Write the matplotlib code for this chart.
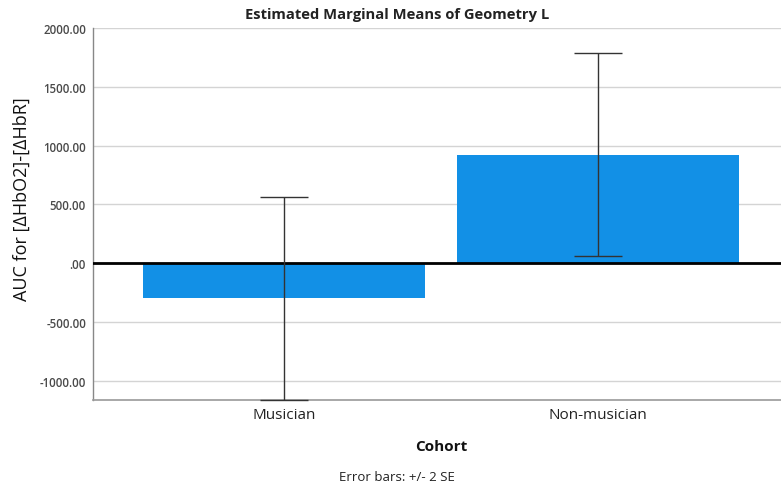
import matplotlib
matplotlib.use("Agg")
import matplotlib.pyplot as plt
import numpy as np

plt.rcParams['font.family'] = ['Open Sans', 'DejaVu Sans']

# Estimated marginal means of AUC by cohort, with +/- 2 SE bounds
cohorts = ["Musician", "Non-musician"]
means = [-300.0, 921.0]
two_se = [862.0, 864.0]

yticks = [-1000, -500, 0, 500, 1000, 1500, 2000]
ytick_labels = ["-1000.00", "-500.00", ".00", "500.00", "1000.00", "1500.00", "2000.00"]

fig = plt.figure(figsize=(7.81, 4.89), dpi=100)
W, H = 781, 489
left, right, top, bottom = 93, 781, 29, 401
ax = fig.add_axes([left / W, 1 - bottom / H, (right - left) / W, (bottom - top) / H])

x = np.arange(len(cohorts))
ax.bar(x, means, width=0.9, color="#1290E6", zorder=2)
ax.errorbar(x, means, yerr=two_se, fmt="none", ecolor="#333333",
            elinewidth=1.0, capsize=17, capthick=1.0, zorder=4, clip_on=False)
ax.axhline(0, color="black", linewidth=2.0, zorder=3)

ax.set_xlim(-0.608, 1.583)
ax.set_ylim(-1165, 2000)
ax.set_yticks(yticks)
ax.set_yticklabels(ytick_labels, fontsize=8.3, color="#4a4a4a", fontweight="semibold")
ax.set_xticks(x)
ax.set_xticklabels(cohorts, fontsize=11, color="#222222")
ax.tick_params(axis="y", length=0, pad=5)
ax.tick_params(axis="x", length=0, pad=5)

ax.yaxis.grid(True, color="#d4d4d4", linewidth=1.0, zorder=0)
ax.set_axisbelow(True)
for side in ["top", "right"]:
    ax.spines[side].set_visible(False)
ax.spines["left"].set_color("#888888")
ax.spines["bottom"].set_color("#999999")
ax.spines["left"].set_linewidth(1.0)
ax.spines["bottom"].set_linewidth(1.2)

fig.text(397 / W, 1 - 15 / H, "Estimated Marginal Means of Geometry L",
         ha="center", va="center", fontsize=10.6, fontweight="bold", color="#222222")
fig.text(22 / W, 1 - 199 / H, "AUC for [ΔHbO2]-[ΔHbR]", rotation=90,
         ha="center", va="center", fontsize=13, color="#111111")
fig.text(441 / W, 1 - 447 / H, "Cohort", ha="center", va="center",
         fontsize=11, fontweight="bold", color="#111111")
fig.text(397 / W, 1 - 478 / H, "Error bars: +/- 2 SE", ha="center", va="center",
         fontsize=9.5, color="#222222")

fig.savefig("out.png", dpi=100, facecolor="white")
